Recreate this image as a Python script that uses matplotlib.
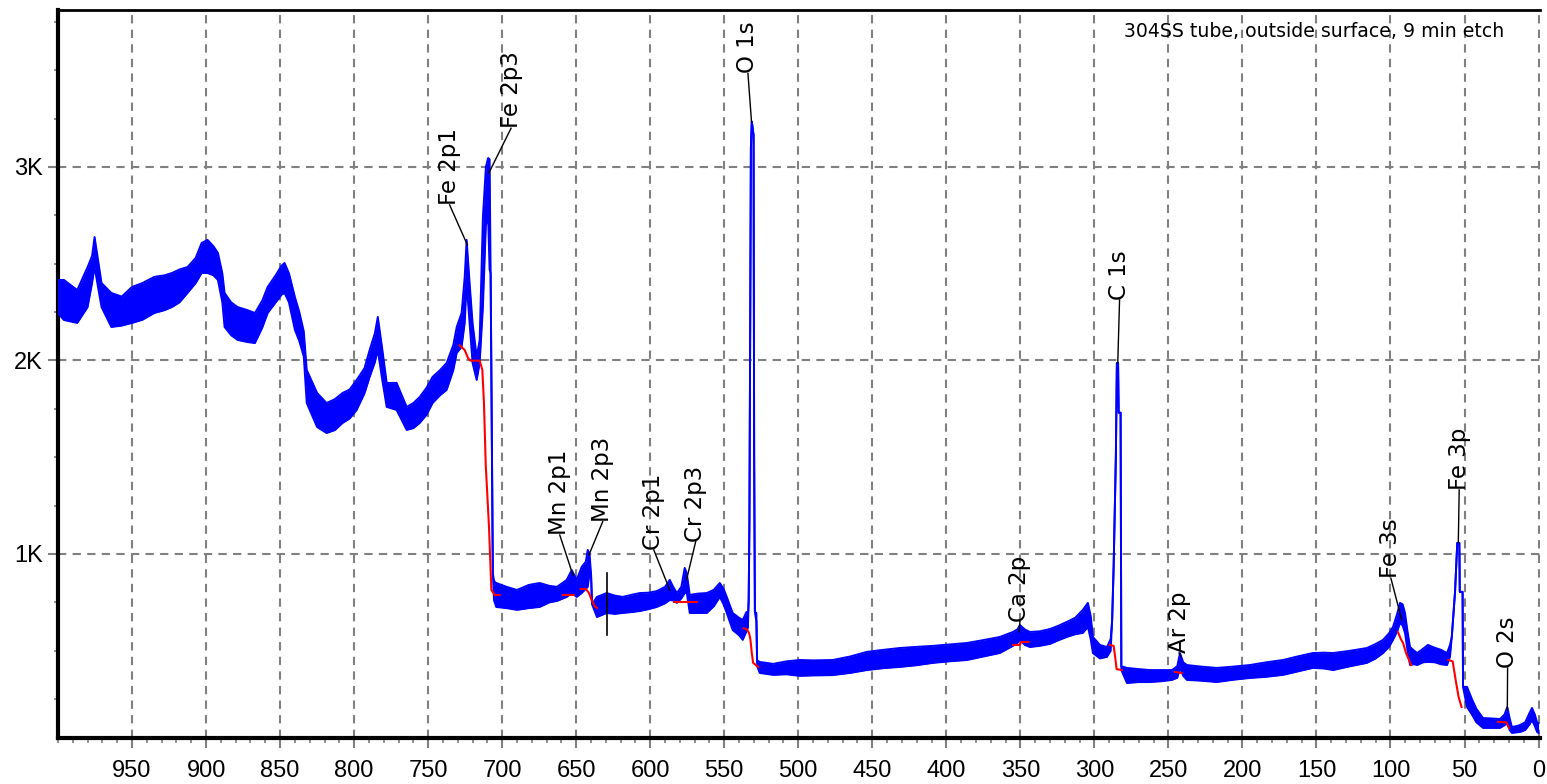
import matplotlib.pyplot as plt
from matplotlib.ticker import MultipleLocator, FixedLocator

# XPS survey, binding energy (eV) against counts.
# The noisy trace is stored as the top and bottom edge of its band.
energy = [1002, 996, 987, 980, 977, 975.3, 973, 970.6, 964, 957, 950, 943, 935, 928,
          923, 918, 912.5, 907, 903, 899, 895, 892, 889, 887.5, 883, 878.7, 872, 867,
          862, 858.4, 853, 849, 847, 844, 840, 837, 834, 832, 825, 818.6, 813, 807.8,
          803, 798.3, 793, 789.5, 786, 784, 781, 778, 771.3, 764.5, 760, 755.7, 751,
          747, 742, 737.5, 733, 730.7, 727.4, 725.3, 724, 722, 720, 717.2, 715.2, 713,
          711, 709.5, 708.5, 707.8, 707.0, 706.3, 705.5, 704, 697, 690, 682, 674.7,
          668, 663, 656.4, 653, 649.7, 646.3, 643.5, 642.2, 641, 640, 639.3, 636,
          629.4, 624, 618.6, 612, 607, 601, 595.6, 590, 586.8, 584.5, 582, 579, 576.7,
          575.3, 573.3, 568, 561.8, 557, 553, 550.5, 548.3, 544.3, 540, 537.5, 535,
          534, 533.5, 533.0, 532.0, 531.4, 530.2, 529.8, 529.3, 528.3, 527.8, 526,
          517, 508, 499, 490, 476.7, 465, 453.7, 442, 431.4, 420, 409, 398, 386, 375,
          363.9, 355, 352, 350.3, 347, 343.6, 337, 330, 324, 318.6, 313, 307.8, 304.4,
          302.5, 301, 296.3, 291.5, 289, 288, 287, 285.5, 284.8, 284.0, 283.6, 282.3,
          281.8, 278, 270, 262.5, 255, 247.6, 244, 242.2, 240, 237.5, 228, 217.3, 206,
          195, 184, 172.6, 163, 152.4, 145, 138.8, 127, 115.9, 110, 105, 101, 98.3,
          95.5, 93.6, 91.8, 90.2, 88.5, 86.8, 84, 82, 78, 74.7, 70, 66, 61.8, 59.8, 58.6,
          56.4, 54.9, 53.5, 53.2, 51.3, 51.0, 48.3, 45, 42, 37.5, 32, 26, 23, 21.1,
          19.5, 18, 15, 12.5, 9, 6, 4.4, 2.5, 1, 0]
upper = [2416, 2416, 2364, 2483, 2540, 2638, 2520, 2400, 2349, 2330, 2380, 2400, 2432, 2440,
         2452, 2470, 2483, 2530, 2607, 2623, 2590, 2556, 2450, 2349, 2300, 2276, 2260, 2245,
         2310, 2380, 2440, 2490, 2504, 2450, 2328, 2250, 2150, 1951, 1832, 1780, 1800, 1832,
         1850, 1899, 1960, 2054, 2140, 2225, 2060, 1884, 1884, 1760, 1780, 1811, 1860,
         1915, 1950, 1987, 2080, 2173, 2245, 2432, 2623, 2400, 2194, 2018, 2106, 2742,
         3000, 3046, 3040, 2450, 1620, 900, 860, 850, 830, 814, 840, 850,
         835, 830, 866, 917, 866, 933, 960, 1021, 1000, 900, 740, 778,
         798, 785, 778, 790, 798, 800, 808, 830, 866, 830, 798, 830, 928,
         900, 788, 795, 798, 815, 850, 820, 778, 695, 670, 659, 700,
         680, 760, 1160, 3100, 3234, 3165, 1500, 700, 695, 450, 442,
         432, 445, 452, 450, 452, 470, 494, 505, 514, 520, 525, 532, 540, 555,
         571, 597, 610, 633, 610, 597, 600, 612, 630, 649, 670, 711, 747,
         680, 571, 530, 519, 560, 659, 933, 1500, 1987, 1987, 1730, 1730,
         420, 411, 405, 400, 400, 400, 420, 488, 440, 426, 418, 411, 418,
         426, 440, 452, 470, 488, 490, 488, 500, 514, 535, 556, 590, 623,
         690, 747, 740, 695, 600, 519, 500, 488, 510, 530, 515, 505, 488, 530, 571,
         804, 1057, 1057, 804, 804, 313, 313, 250, 200, 152, 150, 147, 170, 209,
         150, 106, 110, 116, 130, 180, 204, 170, 130, 126]
lower = [2261, 2209, 2194, 2276, 2400, 2483, 2380, 2276, 2173, 2180, 2194, 2210, 2245, 2260,
         2276, 2300, 2349, 2400, 2452, 2452, 2440, 2416, 2300, 2173, 2130, 2106, 2095, 2090,
         2170, 2245, 2300, 2340, 2349, 2300, 2158, 2100, 2020, 1780, 1656, 1625, 1640, 1677,
         1700, 1744, 1830, 1915, 1990, 2054, 1900, 1760, 1744, 1641, 1650, 1677, 1720,
         1780, 1820, 1848, 1950, 2039, 2070, 2194, 2400, 2194, 1987, 1899, 1987, 2276,
         2700, 2742, 2470, 2450, 1620, 900, 760, 726, 720, 711, 720, 726,
         750, 757, 778, 798, 778, 798, 820, 830, 900, 900, 740, 674,
         695, 690, 695, 700, 705, 715, 726, 745, 762, 760, 747, 770, 798,
         800, 695, 695, 695, 730, 778, 740, 695, 607, 580, 556, 600,
         620, 760, 1160, 3100, 3234, 3165, 1500, 700, 650, 420, 385,
         375, 378, 370, 372, 374, 385, 400, 410, 416, 425, 437, 445, 452, 470,
         488, 525, 540, 556, 530, 519, 525, 535, 555, 571, 585, 592, 623,
         560, 488, 460, 468, 500, 659, 933, 1500, 1987, 1987, 1730, 1730,
         400, 333, 338, 338, 342, 349, 360, 411, 370, 349, 345, 338, 350,
         359, 365, 375, 392, 411, 408, 400, 420, 437, 460, 488, 520, 556,
         600, 643, 630, 592, 500, 426, 430, 426, 440, 442, 440, 430, 426, 470, 571,
         804, 1057, 1057, 804, 804, 313, 209, 170, 130, 101, 101, 101, 115, 126,
         90, 75, 78, 80, 90, 120, 142, 110, 80, 75]

# background steps under the fitted peaks
bg_fe2p_ev = [728.7, 725.3, 723.1, 721.5, 715.2, 713.4, 712.3, 711.1, 708.9, 707.3, 705, 701.7]
bg_fe2p = [2078, 2054, 2013, 1999, 1999, 1951, 1780, 1460, 1140, 814, 788, 788]
bg_mn2p_ev = [659, 651.6, None, 647, 643.5, 641.5, 639.5, 637.5, 636]
bg_mn2p = [788, 788, None, 819, 819, 800, 760, 730, 721]
bg_cr2p_ev = [584, 568.5]
bg_cr2p = [752, 752]
bg_o1s_ev = [536.8, 534.6, 533.2, 532.3, 531.4, 530.5, 527.1]
bg_o1s = [616, 610, 590, 556, 488, 437, 416]
bg_ca2p_ev = [355, 350.3, 349.5, 344.5]
bg_ca2p = [530, 530, 545, 545]
bg_c1s_ev = [289.5, 287, 286, 285, 281.5]
bg_c1s = [530, 525, 470, 405, 400]
bg_ar2p_ev = [245.6, 241]
bg_ar2p = [390, 385]
bg_fe3s_ev = [95, 93, 91.5, 89.5, 86]
bg_fe3s = [597, 560, 540, 488, 426]
bg_fe3p_ev = [61, 58, 56, 54, 52]
bg_fe3p = [452, 445, 349, 261, 209]
bg_o2s_ev = [27.4, 21.8, 20]
bg_o2s = [132, 130, 101]

# peak identifications: label, leader end on the peak, foot of the label
peak_names = ["Fe 2p1", "Fe 2p3", "O 1s", "C 1s", "Mn 2p1", "Mn 2p3", "Cr 2p1",
              "Cr 2p3", "Ca 2p", "Ar 2p", "Fe 3s", "Fe 3p", "O 2s"]
peak_ev = [723.5, 709.0, 531.6, 284.2, 652.2, 641.4, 586.8, 575.5, 350.8, 241.5, 92.4, 54.2, 21.1]
peak_counts = [2597, 2969, 3234, 1987, 891, 995, 814, 866, 598, 470, 659, 1057, 194]
label_ev = [735.5, 694.0, 534.0, 283.0, 661.1, 632.1, 597.6, 569.3, 350.3, 242.8, 99.7, 53.6, 20.9]
label_counts = [2804, 3200, 3484, 2313, 1098, 1167, 1021, 1064, 650, 488, 874, 1331, 411]

marker_ev = 629
marker_counts = [580, 902]

x_ticks = list(range(950, -1, -50))
y_ticks = [1000, 2000, 3000]
y_tick_labels = ["1K", "2K", "3K"]
title_text = "304SS tube, outside surface, 9 min etch"

fig = plt.figure(figsize=(15.47, 7.84), dpi=100)
ax = fig.add_axes([0.0375, 0.0587, 0.9578, 0.9285])
ax.set_xlim(1000, -0.8)
ax.set_ylim(49, 3811)

blue = "#0000ff"
ax.fill_between(energy, lower, upper, color=blue, lw=0, zorder=3)
ax.plot(energy, upper, color=blue, lw=1.4, zorder=3)
ax.plot(energy, lower, color=blue, lw=1.4, zorder=3)

for ev, cts in [(bg_fe2p_ev, bg_fe2p), (bg_mn2p_ev, bg_mn2p), (bg_cr2p_ev, bg_cr2p),
                (bg_o1s_ev, bg_o1s), (bg_ca2p_ev, bg_ca2p), (bg_c1s_ev, bg_c1s),
                (bg_ar2p_ev, bg_ar2p), (bg_fe3s_ev, bg_fe3s), (bg_fe3p_ev, bg_fe3p),
                (bg_o2s_ev, bg_o2s)]:
    ev = [float("nan") if v is None else v for v in ev]
    cts = [float("nan") if v is None else v for v in cts]
    ax.plot(ev, cts, color="#ff0000", lw=1.5, zorder=4)

ax.plot([marker_ev, marker_ev], marker_counts, color="black", lw=1.2, zorder=5)

for name, pe, pc, le, lc in zip(peak_names, peak_ev, peak_counts, label_ev, label_counts):
    ax.plot([le, pe], [lc, pc], color="black", lw=1.0, zorder=5)
    ax.text(le, lc, name, rotation=90, ha="center", va="bottom",
            fontsize=16.5, family="DejaVu Sans", zorder=6)

ax.text(0.976, 0.97, title_text, transform=ax.transAxes, ha="right", va="center",
        fontsize=13.6, family="DejaVu Sans")

# axes styling
grey = "#808080"
ax.xaxis.set_major_locator(FixedLocator(x_ticks))
ax.xaxis.set_minor_locator(MultipleLocator(10))
ax.yaxis.set_major_locator(FixedLocator(y_ticks))
ax.yaxis.set_minor_locator(MultipleLocator(250))
ax.set_yticklabels(y_tick_labels)
ax.grid(True, which="major", color=grey, linestyle=(0, (4, 3)), lw=1.5, zorder=1)
ax.tick_params(axis="x", which="major", length=7, width=1.5, color=grey, pad=9,
               labelsize=17)
ax.tick_params(axis="x", which="minor", length=3.5, width=1.2, color=grey)
ax.tick_params(axis="y", which="major", length=7, width=1.5, color=grey, pad=4,
               labelsize=17)
ax.tick_params(axis="y", which="minor", length=3, width=1.2, color=grey)
for lab in ax.get_xticklabels() + ax.get_yticklabels():
    lab.set_family("Liberation Sans")

ax.spines["right"].set_visible(False)
ax.spines["left"].set_linewidth(3)
ax.spines["bottom"].set_linewidth(3)
ax.spines["top"].set_linewidth(2)

fig.savefig("out.png", dpi=100)
